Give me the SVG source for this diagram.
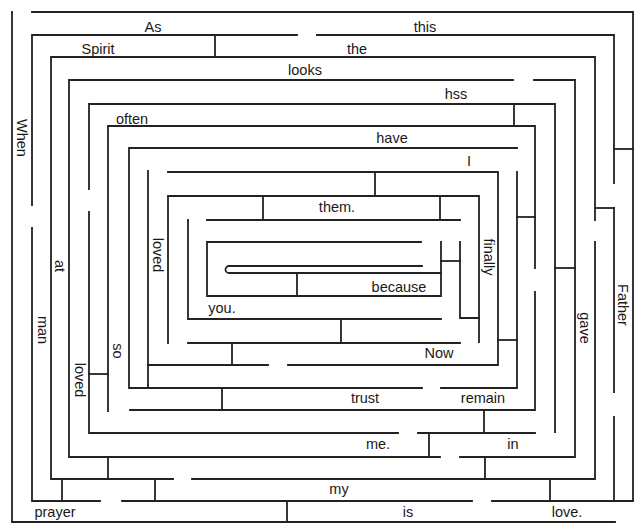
<svg xmlns="http://www.w3.org/2000/svg" width="644" height="523" viewBox="0 0 644 523">
<style>
.w{fill:none;stroke:#222;stroke-width:1.8;stroke-linecap:square;stroke-linejoin:miter}
.t{font-family:"Liberation Sans",Arial,sans-serif;font-size:14.5px;fill:#1a1a1a;text-anchor:middle}
.r{dominant-baseline:central}
</style>
<rect width="644" height="523" fill="#fff"/>
<g id="ring0" class="w">
<path d="M32 12H633V501"/>
<path d="M12 12V522H615"/>
</g>
<g id="ring1" class="w">
<path d="M297 35H32V205"/>
<path d="M317 35H614V183"/>
<path d="M32 228V501H100"/>
<path d="M122 501H472"/>
<path d="M492 501H633"/>
<path d="M614 208V392"/>
<path d="M614 417V501"/>
</g>
<g id="ring2" class="w">
<path d="M595 220V57H51V479H173"/>
<path d="M192 479H595V242"/>
</g>
<g id="ring3" class="w">
<path d="M513 80H69V457H440"/>
<path d="M534 80H575V457H460"/>
</g>
<g id="ring4" class="w">
<path d="M89 189V104H555V432"/>
<path d="M89 212V433H398"/>
<path d="M418 433H535"/>
</g>
<g id="ring5" class="w">
<path d="M108 411V126H535V268"/>
<path d="M535 292V410H130"/>
</g>
<g id="ring6" class="w">
<path d="M422 388H129V148H517"/>
<path d="M441 388H517V172"/>
</g>
<g id="ring7" class="w">
<path d="M148 171V388"/>
<path d="M168 172H498V365H288"/>
<path d="M268 365H148"/>
</g>
<g id="ring8" class="w">
<path d="M168 343V196H479V342"/>
<path d="M188 343H460"/>
</g>
<g id="ring9" class="w">
<path d="M207 220H460"/>
<path d="M188 220V319H441"/>
<path d="M460 242V318H479"/>
</g>
<g id="ring10" class="w">
<path d="M421 242H207V296H441V242"/>
<path d="M422 266H229A3.5 3.5 0 0 0 229 273H441"/>
</g>
<g id="connectors" class="w">
<path d="M215 35V57"/>
<path d="M514 104V126"/>
<path d="M614 149H633"/>
<path d="M595 208H614"/>
<path d="M517 217H535"/>
<path d="M555 268H575"/>
<path d="M498 340H517"/>
<path d="M375 172V196"/>
<path d="M263 196V220"/>
<path d="M440 196V220"/>
<path d="M441 261H460"/>
<path d="M297 273V296"/>
<path d="M341 319V343"/>
<path d="M232 343V365"/>
<path d="M222 388V410"/>
<path d="M89 374H108"/>
<path d="M484 410V433"/>
<path d="M429 433V456"/>
<path d="M485 457V479"/>
<path d="M108 457V479"/>
<path d="M62 479V501"/>
<path d="M155 479V501"/>
<path d="M550 479V501"/>
<path d="M287 501V522"/>
</g>
<g id="words" class="t">
<text x="153" y="32">As</text>
<text x="425" y="32">this</text>
<text x="98" y="54">Spirit</text>
<text x="357" y="54">the</text>
<text x="305" y="75">looks</text>
<text x="456" y="99">hss</text>
<text x="132" y="124">often</text>
<text x="392" y="143">have</text>
<text x="469" y="166">I</text>
<text x="337" y="212">them.</text>
<text x="399" y="292">because</text>
<text x="222" y="313">you.</text>
<text x="439" y="358">Now</text>
<text x="365" y="403">trust</text>
<text x="483" y="403">remain</text>
<text x="378" y="449">me.</text>
<text x="513" y="449">in</text>
<text x="339" y="494">my</text>
<text x="55" y="517">prayer</text>
<text x="408" y="517">is</text>
<text x="567" y="517">love.</text>
<text class="r" x="22" y="138" transform="rotate(90 22 138)">When</text>
<text class="r" x="60" y="266" transform="rotate(90 60 266)">at</text>
<text class="r" x="43" y="330" transform="rotate(90 43 330)">man</text>
<text class="r" x="80" y="380" transform="rotate(90 80 380)">loved</text>
<text class="r" x="118" y="351" transform="rotate(90 118 351)">so</text>
<text class="r" x="158" y="255" transform="rotate(90 158 255)">loved</text>
<text class="r" x="489" y="257" transform="rotate(90 489 257)">finally</text>
<text class="r" x="585" y="328" transform="rotate(90 585 328)">gave</text>
<text class="r" x="623" y="305" transform="rotate(90 623 305)">Father</text>
</g>
</svg>
